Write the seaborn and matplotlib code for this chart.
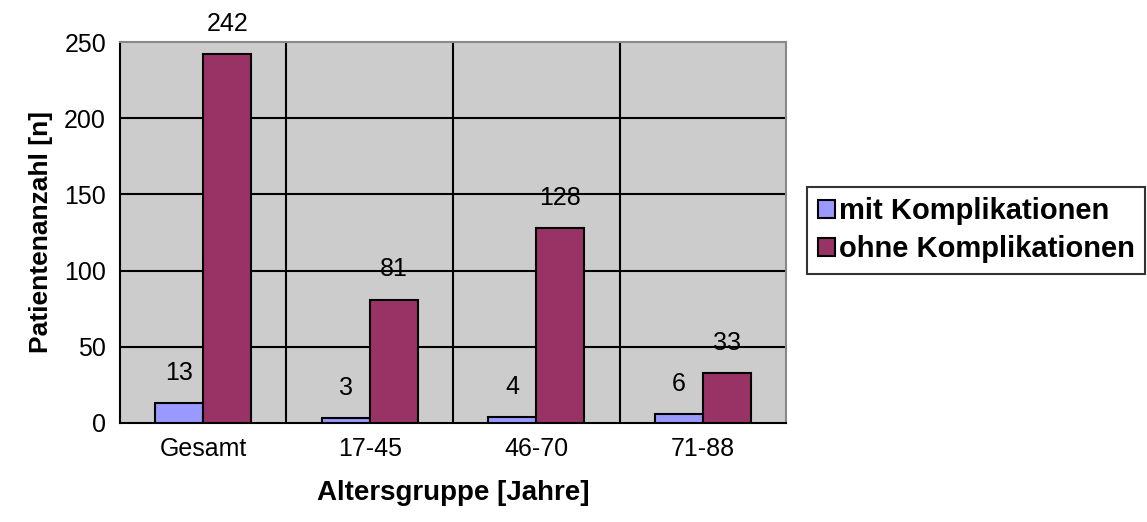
import matplotlib
matplotlib.use("Agg")
import matplotlib.pyplot as plt
import seaborn as sns
import pandas as pd
from matplotlib.patches import Patch

categories = ["Gesamt", "17-45", "46-70", "71-88"]
series_names = ["mit Komplikationen", "ohne Komplikationen"]
mit_values = [13, 3, 4, 6]
ohne_values = [242, 81, 128, 33]
y_ticks = [0, 50, 100, 150, 200, 250]
colors = ["#9999FF", "#993366"]

sns.set_theme(style="white")
plt.rcParams['font.family'] = ['Liberation Sans', 'DejaVu Sans']
plt.rcParams['text.color'] = 'black'
plt.rcParams['axes.labelcolor'] = 'black'

df = pd.DataFrame({
    "Altersgruppe": categories * 2,
    "Serie": [series_names[0]] * 4 + [series_names[1]] * 4,
    "n": mit_values + ohne_values,
})

fig = plt.figure(figsize=(11.47, 5.22), dpi=100)
ax = fig.add_axes([0.1046, 0.1897, 0.5807, 0.7298])
ax.set_facecolor("#CCCCCC")

sns.barplot(data=df, x="Altersgruppe", y="n", hue="Serie", palette=colors,
            width=0.577, gap=0, edgecolor="black", linewidth=1.5,
            saturation=1, ax=ax, legend=False, zorder=3)

for cont in ax.containers:
    ax.bar_label(cont, padding=13, fontsize=18, color="black", clip_on=False)

ax.set_ylim(0, 250)
ax.set_xlim(-0.5, 3.5)
ax.set_yticks(y_ticks)
ax.set_yticklabels([str(t) for t in y_ticks], fontsize=18)
ax.set_xticks(range(4))
ax.set_xticklabels(categories, fontsize=18)
ax.set_xticks([-0.5, 0.5, 1.5, 2.5, 3.5], minor=True)
ax.tick_params(axis="x", which="major", length=0, pad=10, colors="black")
ax.tick_params(axis="x", which="minor", length=7, width=1.5, direction="out", color="black")
ax.tick_params(axis="y", which="major", length=7, width=1.5, direction="out", color="black", pad=3)
ax.tick_params(axis="both", labelcolor="black")

for y in y_ticks[1:-1]:
    ax.axhline(y, color="black", linewidth=1.5, zorder=1)
for x in [0.5, 1.5, 2.5]:
    ax.axvline(x, color="black", linewidth=1.5, zorder=1)

for side in ["left", "bottom"]:
    ax.spines[side].set_color("black")
    ax.spines[side].set_linewidth(1.5)
for side in ["top", "right"]:
    ax.spines[side].set_color("#888888")
    ax.spines[side].set_linewidth(1.5)

ax.set_xlabel("Altersgruppe [Jahre]", fontsize=20, fontweight="bold", labelpad=14)
ax.set_ylabel("Patientenanzahl [n]", fontsize=19, fontweight="bold", labelpad=8)

handles = [Patch(facecolor=c, edgecolor="black", linewidth=1.5) for c in colors]
leg = fig.legend(handles, series_names, loc="upper left", bbox_to_anchor=(0.704, 0.642),
                 prop={"size": 21, "weight": "bold"}, frameon=True, fancybox=False,
                 edgecolor="black", handlelength=0.6, handleheight=0.6, handletextpad=0.12,
                 borderpad=0.35, labelspacing=0.35, borderaxespad=0)
leg.get_frame().set_linewidth(1.5)

fig.savefig("out.png", dpi=100, facecolor="white")
